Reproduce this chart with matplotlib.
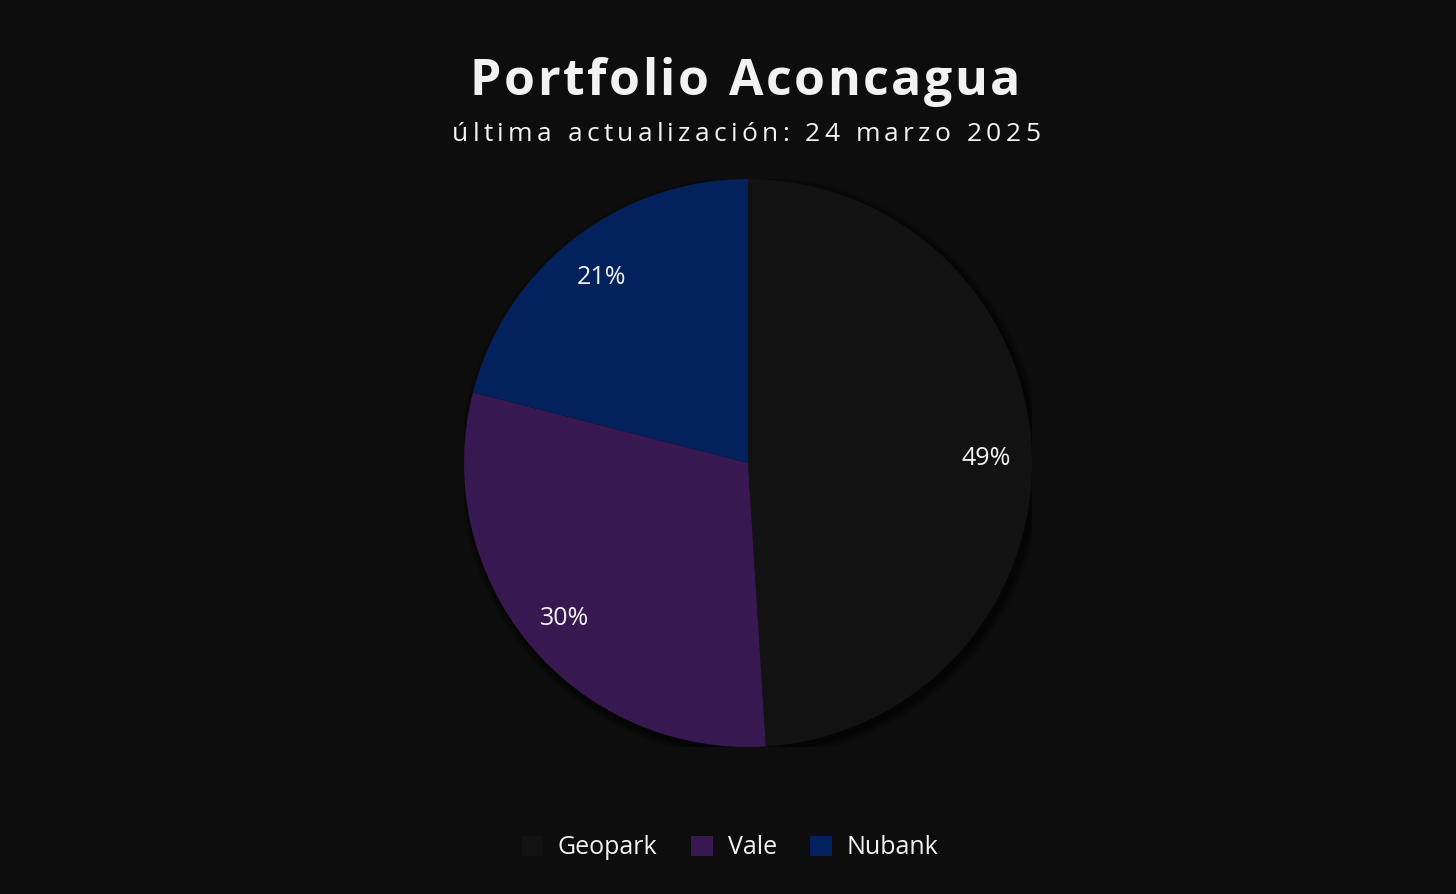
import matplotlib
matplotlib.use("Agg")
import matplotlib.pyplot as plt
from matplotlib.patches import Patch, Circle

# Portfolio composition
labels = ["Geopark", "Vale", "Nubank"]
weights = [49, 30, 21]
colors = ["#121212", "#381850", "#03215c"]

title = "Portfolio Aconcagua"
subtitle = "última actualización: 24 marzo 2025"

BG = "#0d0d0d"
FG = "#f2f2f2"
FONT = "Open Sans"

W, H, DPI = 1456, 894, 100
fig = plt.figure(figsize=(W / DPI, H / DPI), dpi=DPI, facecolor=BG)


def tracked_text(s, x_left, x_right, baseline_px, size, weight="normal"):
    """Draw text spread across [x_left, x_right] (pixels) with even letter spacing."""
    renderer = fig.canvas.get_renderer()
    widths = []
    for ch in s:
        t = fig.text(0, 0, ch if ch != " " else "n", fontsize=size, family=FONT,
                     fontweight=weight)
        w = t.get_window_extent(renderer).width
        if ch == " ":
            w *= 0.45
        widths.append(w)
        t.remove()
    natural = sum(widths)
    gap = (x_right - x_left - natural) / (len(s) - 1)
    x = x_left
    y = 1 - baseline_px / H
    for ch, w in zip(s, widths):
        if ch != " ":
            fig.text(x / W, y, ch, fontsize=size, family=FONT, fontweight=weight,
                     color=FG, ha="left", va="baseline")
        x += w + gap


tracked_text(title, 470, 1020, 95, 36, weight="bold")
tracked_text(subtitle, 452, 1040, 141, 19)

# Pie axes: centre (748, 463) px, radius 284 px
cx, cy, r = 748, 463, 284
ax = fig.add_axes([(cx - r) / W, (H - cy - r) / H, 2 * r / W, 2 * r / H])
ax.set_facecolor(BG)

# soft drop shadow under the pie
px = 1.0 / r
for i in range(8, 0, -1):
    ax.add_patch(Circle((3 * px, -4 * px), 1 + i * px, color="#050505",
                        alpha=0.09, lw=0, zorder=0))

wedges, _, autotexts = ax.pie(
    weights, colors=colors, startangle=90, counterclock=False,
    autopct="%1.0f%%", pctdistance=0.84, radius=1,
    wedgeprops=dict(linewidth=0, zorder=1),
    textprops=dict(color=FG, fontsize=18, family=FONT),
)
for t in autotexts:
    t.set_va("center_baseline")
ax.set_xlim(-1, 1)
ax.set_ylim(-1, 1)
ax.set_aspect("equal")
ax.axis("off")

handles = [Patch(facecolor=c, edgecolor="none") for c in colors]
fig.legend(handles, labels, loc="center", bbox_to_anchor=(730 / W, 1 - 848 / H),
           ncol=3, frameon=False, prop=dict(family=FONT, size=18),
           labelcolor=FG, handlelength=0.85, handleheight=0.85,
           handletextpad=0.6, columnspacing=1.35)

fig.savefig("out.png", dpi=DPI, facecolor=BG)
